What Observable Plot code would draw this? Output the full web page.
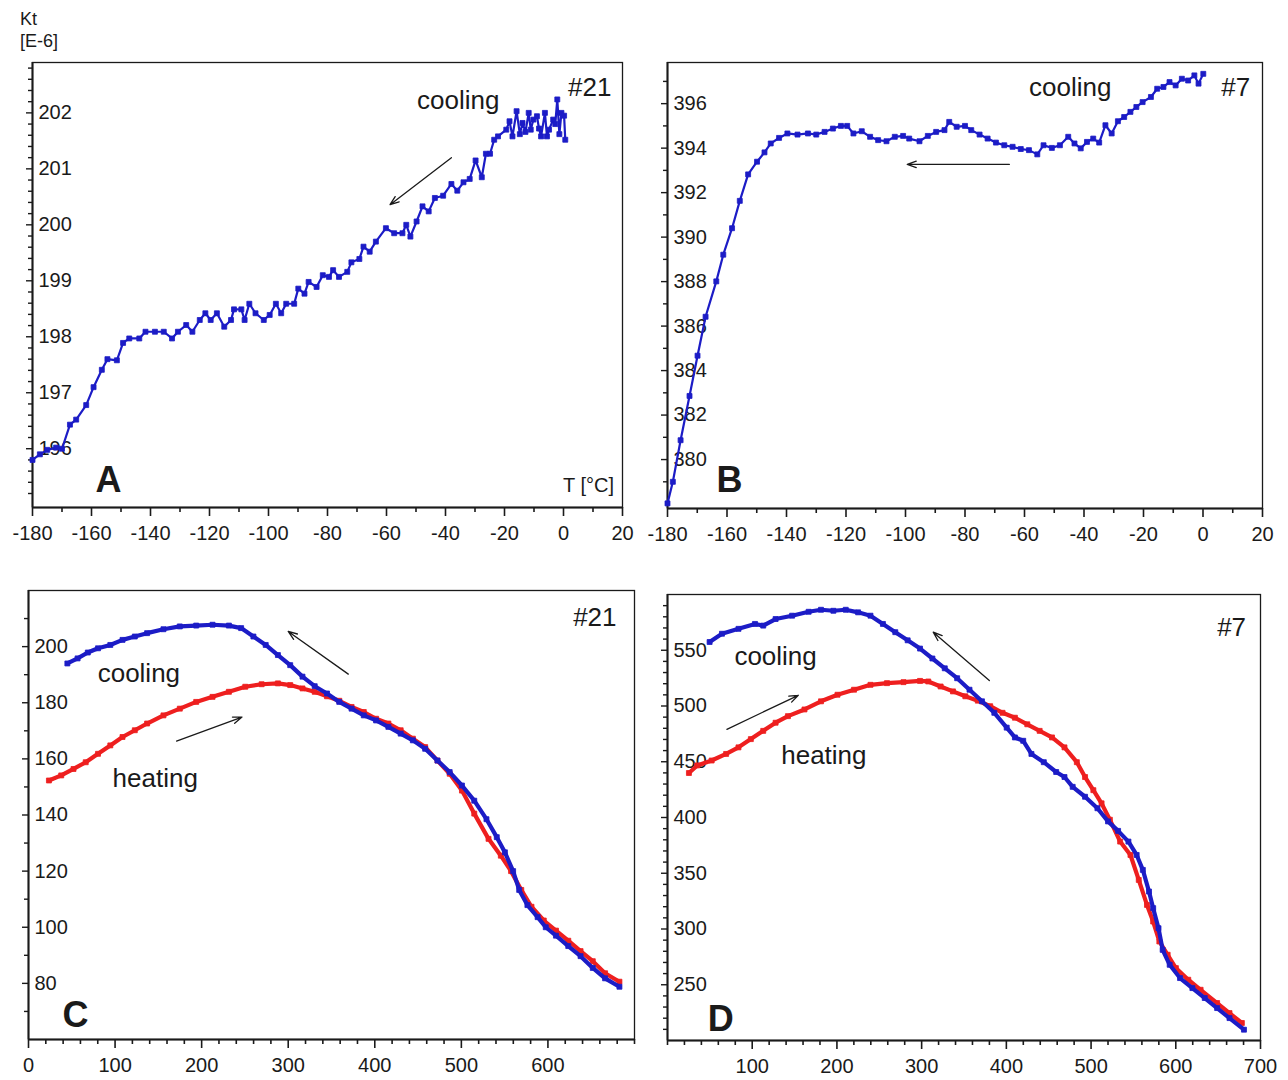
<!DOCTYPE html>
<html>
<head>
<meta charset="utf-8">
<script src="https://cdn.jsdelivr.net/npm/d3@7"></script>
<script src="https://cdn.jsdelivr.net/npm/@observablehq/plot@0.6"></script>
<style>
  html, body { margin: 0; padding: 0; background: #fff; }
  #fig { position: relative; width: 1288px; height: 1080px; font-family: "Liberation Sans", Arial, sans-serif; color: #1a1a1a; }
  #fig svg { position: absolute; }
  .unit { position: absolute; left: 20px; font-size: 18px; line-height: 22px; }
</style>
</head>
<body>
<div id="fig">
  <div class="unit" style="top:8px">Kt</div>
  <div class="unit" style="top:30px">[E-6]</div>
</div>
<script>
// Panel A — sample #21, low-temperature cooling run
const aT = [-180, -177.5, -175, -172, -170, -167.3, -165.2, -161.8, -159.3, -156.5, -154.6, -151.4, -149.3, -147.2, -143.8, -141.7, -138.5, -135.5, -132.7, -130.7, -127.9, -125.8, -123.3, -121.4, -119.6, -117.5, -115.0, -112.7, -111.7, -109.2, -108.1, -106.5, -104.4, -101.6, -99.6, -97.5, -95.7, -94.0, -91.3, -89.9, -87.8, -86.4, -83.7, -81.6, -79.5, -78.1, -76.1, -73.3, -71.9, -69.2, -67.8, -65.7, -63.6, -60.2, -57.4, -54.6, -53.3, -51.9, -49.8, -47.8, -45.7, -43.6, -40.8, -38.0, -36.0, -33.9, -31.8, -29.8, -27.7, -26.3, -24.9, -23.5, -22.2, -19.4, -18.3, -17.3, -15.9, -14.8, -13.9, -12.9, -11.8, -11.1, -10.2, -9.0, -8.3, -7.6, -6.3, -5.6, -4.9, -3.5, -2.8, -2.1, -1.4, -0.7, 0.2, 0.6];
const aKt = [195.80, 195.90, 195.98, 196.02, 196.00, 196.43, 196.52, 196.78, 197.10, 197.41, 197.60, 197.58, 197.89, 197.97, 197.97, 198.09, 198.09, 198.09, 197.97, 198.09, 198.21, 198.09, 198.30, 198.42, 198.30, 198.42, 198.18, 198.30, 198.49, 198.49, 198.30, 198.59, 198.42, 198.30, 198.39, 198.59, 198.42, 198.59, 198.59, 198.86, 198.77, 198.98, 198.89, 199.10, 199.07, 199.19, 199.07, 199.16, 199.33, 199.39, 199.61, 199.52, 199.70, 199.94, 199.85, 199.85, 200.00, 199.79, 200.06, 200.33, 200.24, 200.48, 200.52, 200.73, 200.61, 200.76, 200.82, 201.15, 200.85, 201.27, 201.27, 201.52, 201.58, 201.70, 201.85, 201.58, 202.03, 201.62, 201.82, 201.66, 202.00, 201.70, 201.88, 201.94, 201.72, 201.58, 202.00, 201.58, 201.70, 201.88, 201.80, 202.24, 201.62, 202.00, 201.95, 201.52];

// Panel B — sample #7, low-temperature cooling run
const bT = [-180, -178.2, -175.6, -172.6, -169.9, -167.2, -163.6, -161.25, -158.3, -155.7, -152.9, -149.9, -147.4, -145.3, -142.5, -139.7, -136.3, -132.8, -130.0, -127.2, -124.4, -121.7, -119.6, -117.5, -114.7, -111.9, -109.2, -106.4, -103.6, -100.8, -98.75, -95.3, -92.5, -89.7, -86.9, -85.3, -82.8, -80.0, -77.9, -75.1, -72.4, -69.6, -66.8, -64.0, -61.25, -58.5, -55.7, -53.6, -50.8, -48.1, -45.3, -43.2, -41.1, -39.0, -36.9, -34.9, -32.8, -30.7, -28.6, -26.5, -24.4, -22.4, -20.3, -17.5, -15.4, -13.3, -11.25, -9.2, -7.1, -5.0, -2.9, -1.5, 0.1];
const bKt = [378.03, 379.0, 380.87, 382.86, 384.67, 386.42, 388.01, 389.21, 390.40, 391.63, 392.82, 393.39, 393.81, 394.21, 394.46, 394.66, 394.61, 394.66, 394.61, 394.73, 394.88, 395.0, 395.0, 394.66, 394.76, 394.51, 394.36, 394.31, 394.51, 394.55, 394.43, 394.31, 394.55, 394.73, 394.81, 395.18, 394.96, 395.0, 394.81, 394.61, 394.43, 394.25, 394.13, 394.06, 393.96, 393.91, 393.72, 394.13, 394.01, 394.13, 394.51, 394.21, 393.99, 394.28, 394.43, 394.25, 395.03, 394.66, 395.21, 395.40, 395.63, 395.85, 396.07, 396.30, 396.67, 396.75, 396.97, 396.82, 397.12, 397.04, 397.27, 396.90, 397.34];

// Panel C — sample #21, high-temperature run
const cCoolT = [44.9, 56.7, 68.5, 80.3, 94.5, 108.6, 122.8, 137.0, 155.9, 174.8, 193.7, 212.6, 231.5, 245.6, 259.8, 274.0, 288.1, 302.3, 316.5, 330.6, 344.8, 359.0, 373.2, 387.3, 401.5, 415.7, 429.9, 444.0, 458.2, 472.4, 486.5, 500.7, 514.9, 529.0, 540.9, 550.3, 559.8, 566.8, 576.3, 588.1, 597.5, 609.3, 623.5, 637.7, 651.8, 666.0, 682.6];
const cCoolKt = [194.0, 195.8, 197.9, 199.4, 200.6, 202.4, 203.6, 204.8, 206.2, 207.2, 207.5, 207.8, 207.5, 206.6, 203.6, 200.6, 197.0, 193.4, 189.3, 185.9, 183.3, 180.3, 177.9, 175.5, 173.7, 171.4, 169.0, 166.6, 163.6, 159.4, 155.3, 150.5, 145.1, 138.5, 132.1, 126.7, 120.0, 113.3, 107.9, 103.6, 100.0, 97.0, 93.3, 89.7, 85.5, 81.8, 78.8];
const cHeatT = [23.6, 37.8, 52.0, 66.1, 80.3, 94.5, 108.6, 122.8, 137.0, 155.9, 174.8, 193.7, 212.6, 231.5, 250.4, 269.3, 288.1, 302.3, 316.5, 330.6, 344.8, 359.0, 373.2, 387.3, 401.5, 415.7, 429.9, 444.0, 458.2, 472.4, 486.5, 500.7, 514.9, 531.4, 545.6, 557.4, 569.2, 581.0, 595.2, 609.3, 623.5, 637.7, 651.8, 666.0, 682.6];
const cHeatKt = [152.3, 154.1, 156.4, 158.8, 161.8, 164.8, 167.8, 170.2, 172.6, 175.5, 177.9, 180.3, 182.1, 183.9, 185.7, 186.6, 186.9, 186.3, 185.1, 183.9, 182.3, 180.7, 178.5, 176.7, 174.3, 172.6, 170.2, 167.2, 164.2, 159.4, 154.7, 148.7, 140.5, 131.5, 125.5, 120.0, 113.3, 107.3, 102.4, 98.8, 95.2, 91.5, 87.9, 83.6, 80.6];

// Panel D — sample #7, high-temperature run
const dCoolT = [49.7, 64.3, 83.8, 103.3, 113.0, 127.6, 147.1, 166.6, 181.2, 195.8, 210.4, 225.0, 239.6, 254.3, 268.9, 283.5, 298.1, 312.7, 327.3, 341.9, 356.5, 371.2, 385.8, 400.4, 410.1, 419.9, 429.6, 444.2, 458.8, 468.6, 478.3, 492.9, 507.5, 520.0, 531.9, 544.1, 553.8, 561.1, 568.4, 573.3, 579.6, 584.5, 592.8, 605.0, 619.6, 634.2, 648.8, 663.4, 680.5];
const dCoolKt = [557.4, 564.8, 569.2, 573.6, 572.1, 578.0, 581.0, 584.5, 586.3, 585.4, 586.3, 584.0, 581.0, 573.6, 566.2, 558.9, 551.5, 542.6, 533.8, 524.9, 514.6, 504.2, 493.9, 480.6, 471.8, 468.8, 457.0, 449.6, 440.8, 436.3, 427.5, 418.6, 408.3, 396.5, 388.0, 378.4, 366.4, 353.0, 333.6, 318.7, 300.7, 281.3, 267.9, 256.0, 247.0, 238.1, 229.1, 220.1, 209.7];
const dHeatT = [25.3, 35.1, 52.1, 69.2, 83.8, 98.4, 113.0, 127.6, 142.2, 161.7, 181.2, 200.7, 220.2, 239.6, 259.1, 278.6, 298.1, 307.8, 322.4, 337.0, 351.6, 366.3, 380.9, 395.5, 410.1, 424.7, 439.3, 453.9, 468.6, 483.2, 492.9, 502.7, 512.4, 522.2, 534.3, 546.5, 556.3, 566.0, 573.3, 580.6, 590.4, 600.1, 614.7, 629.3, 648.8, 663.4, 678.0];
const dHeatKt = [439.9, 446.7, 451.1, 457.0, 462.9, 470.3, 477.7, 485.0, 490.9, 496.9, 504.2, 510.1, 514.6, 519.0, 520.5, 521.4, 522.5, 522.0, 517.5, 513.1, 508.7, 504.8, 499.8, 493.9, 489.5, 483.6, 477.7, 471.8, 462.9, 449.6, 436.3, 424.5, 412.7, 398.0, 378.4, 366.4, 344.0, 321.6, 306.7, 288.8, 276.9, 264.9, 254.5, 245.5, 233.6, 224.6, 215.7];

const BLUE = "#1c1cc6";
const RED = "#ee1f1f";
const INK = "#1a1a1a";

const zip = (xs, ys) => xs.map((x, i) => ({x, y: ys[i]}));
const plain = d => `${d}`;   // hyphen-minus tick labels

// Tick marks hang off the axis lines: zero-length rules stretched outward with negative insets.
function xTickMarks(ticks, y0, len) {
  return Plot.ruleX(ticks, {x: d => d, y1: y0, y2: y0, insetBottom: -len, stroke: INK, strokeWidth: 1.6});
}
function yTickMarks(ticks, x0, len) {
  return Plot.ruleY(ticks, {y: d => d, x1: x0, x2: x0, insetLeft: -len, stroke: INK, strokeWidth: 1.4});
}

function panel(o) {
  const [x0] = o.xDomain, [y0] = o.yDomain;
  const marks = [
    Plot.frame({stroke: INK, strokeWidth: 1.3}),
    xTickMarks(o.xMinor, y0, 5),
    xTickMarks(o.xTicks, y0, 9),
    yTickMarks(o.yMinor, x0, 4),
    yTickMarks(o.yTicks, x0, 6),
    Plot.axisX({ticks: o.xTicks, tickSize: 0, tickPadding: 18, tickFormat: plain, fontSize: 20, fill: INK, label: null}),
    Plot.axisY({ticks: o.yTicks, tickSize: 0, tickPadding: -6, textAnchor: "start", tickFormat: plain, fontSize: 20, fill: INK, label: null}),
    Plot.ruleX([x0], {stroke: INK, strokeWidth: 2}),
    Plot.ruleY([y0], {stroke: INK, strokeWidth: 2})
  ];
  for (const s of o.series) {
    const data = zip(s.x, s.y);
    marks.push(Plot.line(data, {x: "x", y: "y", stroke: s.color, strokeWidth: s.width}));
    marks.push(Plot.dot(data, {x: "x", y: "y", symbol: "square", r: s.r, fill: s.color, stroke: s.color, strokeWidth: 0.8}));
  }
  marks.push(Plot.arrow(o.arrows, {x1: "x1", y1: "y1", x2: "x2", y2: "y2", stroke: INK, strokeWidth: 1.3, headLength: 11, headAngle: 40}));
  marks.push(Plot.text(o.notes, {x: "x", y: "y", text: "text", fontSize: 26, fill: INK}));
  marks.push(Plot.text(o.letter, {x: "x", y: "y", text: "text", fontSize: 36, fontWeight: "bold", fill: INK}));
  if (o.unit) marks.push(Plot.text(o.unit, {x: "x", y: "y", text: "text", fontSize: 20, fill: INK}));

  const svg = Plot.plot({
    width: o.width, height: o.height,
    marginLeft: o.m[0], marginRight: o.m[1], marginTop: o.m[2], marginBottom: o.m[3],
    x: {domain: o.xDomain, label: null},
    y: {domain: o.yDomain, label: null},
    style: {fontFamily: "'Liberation Sans', Arial, sans-serif", background: "transparent", color: INK, overflow: "visible"},
    marks
  });
  svg.style.left = o.left + "px";
  svg.style.top = o.top + "px";
  document.getElementById("fig").appendChild(svg);
}

const lowXTicks = d3.range(-180, 21, 20);
const lowXMinor = d3.range(-170, 21, 20);
const highXMinor = d3.range(20, 701, 20).filter(v => v % 100);

panel({
  left: 0, top: 0, width: 644, height: 560, m: [32, 22, 62, 53],
  xDomain: [-180, 20], yDomain: [194.95, 202.9],
  xTicks: lowXTicks, xMinor: lowXMinor,
  yTicks: d3.range(196, 203, 1), yMinor: [195.2, 195.4, 195.6, 195.8, 196.2, 196.4, 196.6, 196.8, 197.2, 197.4, 197.6, 197.8, 198.2, 198.4, 198.6, 198.8, 199.2, 199.4, 199.6, 199.8, 200.2, 200.4, 200.6, 200.8, 201.2, 201.4, 201.6, 201.8, 202.2, 202.4, 202.6, 202.8],
  series: [{x: aT, y: aKt, color: BLUE, width: 2.2, r: 2.8}],
  arrows: [{x1: -38.0, y1: 201.2, x2: -58.8, y2: 200.36}],
  notes: [{x: -35.7, y: 202.22, text: "cooling"}, {x: 8.9, y: 202.45, text: "#21"}],
  letter: [{x: -154.2, y: 195.43, text: "A"}],
  unit: [{x: 8.5, y: 195.35, text: "T [°C]"}]
});

panel({
  left: 644, top: 0, width: 644, height: 560, m: [23, 26, 62, 52],
  xDomain: [-180, 20], yDomain: [377.8, 397.85],
  xTicks: lowXTicks, xMinor: lowXMinor,
  yTicks: d3.range(380, 397, 2), yMinor: d3.range(379, 398, 2),
  series: [{x: bT, y: bKt, color: BLUE, width: 2.2, r: 2.8}],
  arrows: [{x1: -65.1, y1: 393.27, x2: -99.4, y2: 393.27}],
  notes: [{x: -44.6, y: 396.72, text: "cooling"}, {x: 11.0, y: 396.72, text: "#7"}],
  letter: [{x: -159.2, y: 379.06, text: "B"}]
});

panel({
  left: 0, top: 560, width: 644, height: 520, m: [28, 10, 30, 41],
  xDomain: [0, 700], yDomain: [60, 220],
  xTicks: d3.range(0, 601, 100), xMinor: highXMinor.concat([700]),
  yTicks: d3.range(80, 201, 20), yMinor: d3.range(70, 221, 20),
  series: [
    {x: cHeatT, y: cHeatKt, color: RED, width: 4.2, r: 2.8},
    {x: cCoolT, y: cCoolKt, color: BLUE, width: 4.2, r: 2.8}
  ],
  arrows: [{x1: 369.4, y1: 190.2, x2: 300.0, y2: 205.4}, {x1: 171.0, y1: 166.35, x2: 246.6, y2: 174.9}],
  notes: [{x: 654.2, y: 210.4, text: "#21"}, {x: 127.5, y: 190.45, text: "cooling"}, {x: 146.4, y: 152.9, text: "heating"}],
  letter: [{x: 54.3, y: 68.5, text: "C"}]
});

panel({
  left: 644, top: 560, width: 644, height: 520, m: [23, 28, 34, 40],
  xDomain: [0, 700], yDomain: [200, 600],
  xTicks: d3.range(100, 701, 100), xMinor: highXMinor.concat([0]),
  yTicks: d3.range(250, 551, 50), yMinor: d3.range(210, 601, 10).filter(v => v % 50),
  series: [
    {x: dHeatT, y: dHeatKt, color: RED, width: 4.2, r: 2.8},
    {x: dCoolT, y: dCoolKt, color: BLUE, width: 4.2, r: 2.8}
  ],
  arrows: [{x1: 70.1, y1: 479.1, x2: 154.4, y2: 509.6}, {x1: 379.9, y1: 522.8, x2: 313.7, y2: 566.2}],
  notes: [{x: 665.9, y: 570.4, text: "#7"}, {x: 127.6, y: 544.1, text: "cooling"}, {x: 184.6, y: 455.5, text: "heating"}],
  letter: [{x: 62.8, y: 218.7, text: "D"}]
});
</script>
</body>
</html>
